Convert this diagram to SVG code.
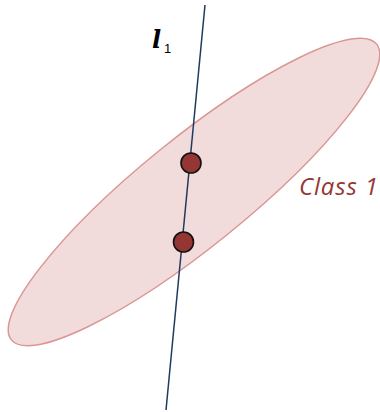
<svg xmlns="http://www.w3.org/2000/svg" width="380" height="412" viewBox="0 0 380 412">
<style>
.dot{fill:#943634;stroke:#111;stroke-width:1.6}
.lbl{font-family:"Open Sans","Liberation Sans",sans-serif;font-style:italic}
</style>
<rect width="380" height="412" fill="#fff"/>
<g id="class1">
<ellipse cx="194" cy="192" rx="235" ry="54" transform="rotate(-39 194 192)" fill="#f2dcdb" stroke="#d99694" stroke-width="1.5"/>
<text class="lbl" x="299" y="195" font-size="24" fill="#953735" textLength="79">Class 1</text>
</g>
<g id="connectors">
<line x1="205" y1="5" x2="166" y2="410" stroke="#1f3a5f" stroke-width="1.5"/>
</g>
<g id="l1">
<text x="152" y="48" font-family="'DejaVu Serif',serif" font-size="24" font-weight="bold" font-style="italic" fill="#000">l</text>
<text x="164" y="53" font-family="'Liberation Sans',sans-serif" font-size="13" fill="#000">1</text>
</g>
<g id="p1"><circle class="dot" cx="191" cy="163" r="10"/></g>
<g id="p2"><circle class="dot" cx="183.5" cy="242" r="10"/></g>
</svg>
